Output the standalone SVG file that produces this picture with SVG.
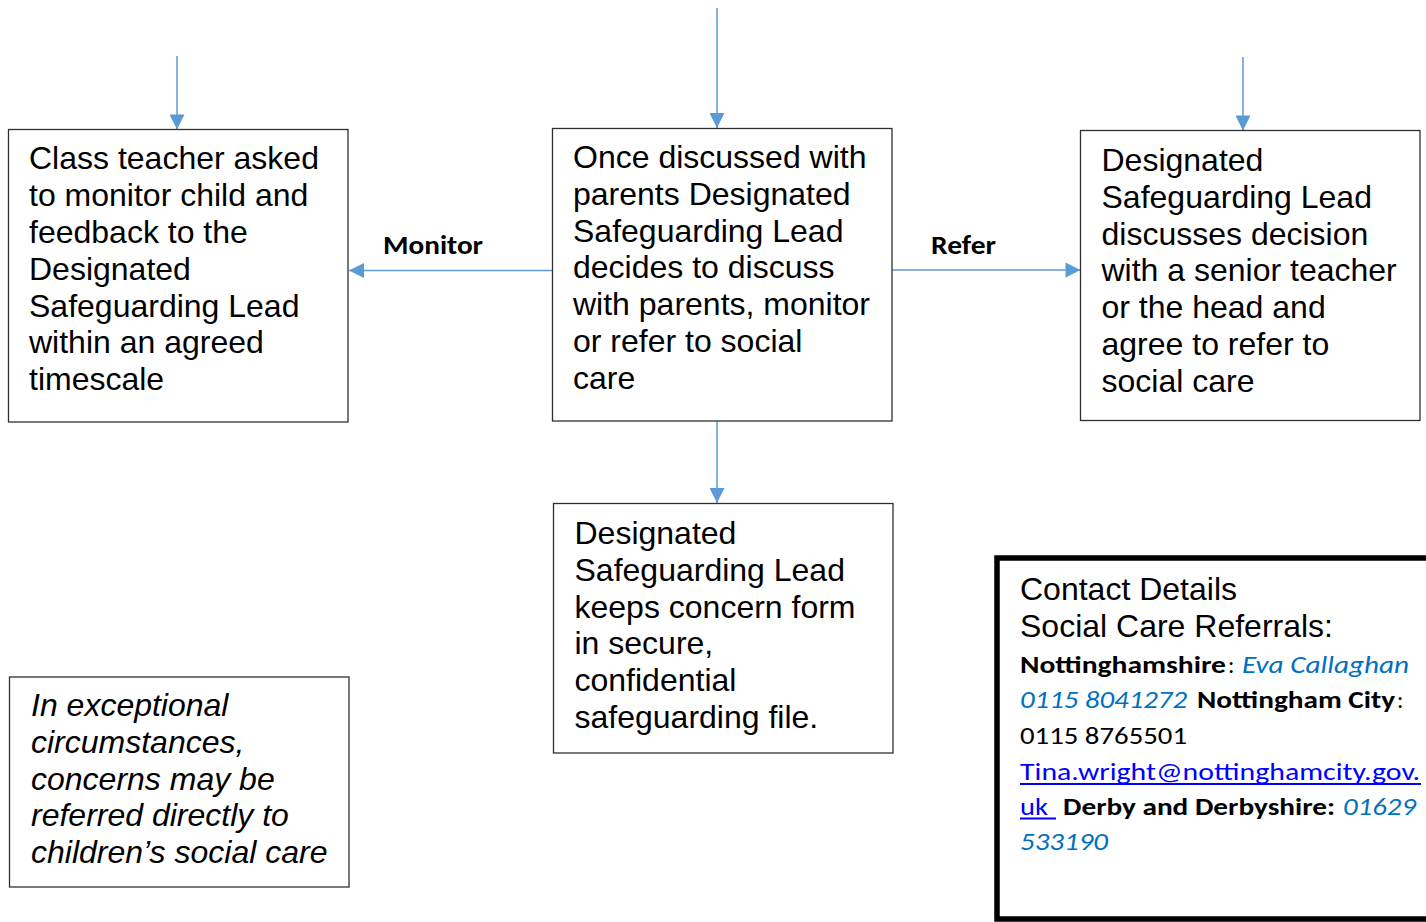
<svg xmlns="http://www.w3.org/2000/svg" width="1426" height="922" viewBox="0 0 1426 922">
<defs>
<style>
.box{fill:#fff;stroke:#303030;stroke-width:1.3}
.t{font-family:"Liberation Sans",Arial,sans-serif;font-size:32px;fill:#000}
.ti{font-family:"Liberation Sans",Arial,sans-serif;font-size:32px;font-style:italic;fill:#000}
.lbl{font-family:Carlito,Lato,"Open Sans",sans-serif;font-size:26px;font-weight:bold;fill:#000}
.c{font-family:Carlito,Lato,"Open Sans",sans-serif;font-size:24px;fill:#000}
.cb{font-weight:bold}
.ci{font-style:italic;fill:#0070C0}
.cl{fill:#0000FF}
.conn{stroke:#5B9BD5;stroke-width:1.5;fill:none;marker-end:url(#ah)}
</style>
<marker id="ah" viewBox="0 0 16 16" refX="16" refY="8" markerWidth="16" markerHeight="15" markerUnits="userSpaceOnUse" orient="auto">
<path d="M0,0 L16,8 L0,16 z" fill="#5B9BD5"/>
</marker>
</defs>
<rect width="1426" height="922" fill="#fff"/>

<g id="connectors">
<line class="conn" x1="177" y1="56" x2="177" y2="129.5"/>
<line class="conn" x1="717" y1="8" x2="717" y2="128"/>
<line class="conn" x1="1243" y1="57" x2="1243" y2="130.5"/>
<line class="conn" x1="717" y1="421" x2="717" y2="503"/>
<line class="conn" x1="552" y1="270.5" x2="349" y2="270.5"/>
<line class="conn" x1="892" y1="270" x2="1080.5" y2="270"/>
<text class="lbl" x="383" y="254" textLength="100" lengthAdjust="spacingAndGlyphs">Monitor</text>
<text class="lbl" x="931" y="254" textLength="65" lengthAdjust="spacingAndGlyphs">Refer</text>
</g>

<g id="node-monitor">
<rect class="box" x="8.5" y="129.5" width="339.5" height="292.5"/>
<text class="t" x="29" y="169.3">
<tspan x="29">Class teacher asked</tspan>
<tspan x="29" dy="36.8">to monitor child and</tspan>
<tspan x="29" dy="36.8">feedback to the</tspan>
<tspan x="29" dy="36.8">Designated</tspan>
<tspan x="29" dy="36.8">Safeguarding Lead</tspan>
<tspan x="29" dy="36.8">within an agreed</tspan>
<tspan x="29" dy="36.8">timescale</tspan>
</text>
</g>

<g id="node-decide">
<rect class="box" x="552.5" y="128.5" width="339.5" height="292.5"/>
<text class="t" x="573" y="168">
<tspan x="573">Once discussed with</tspan>
<tspan x="573" dy="36.8">parents Designated</tspan>
<tspan x="573" dy="36.8">Safeguarding Lead</tspan>
<tspan x="573" dy="36.8">decides to discuss</tspan>
<tspan x="573" dy="36.8">with parents, monitor</tspan>
<tspan x="573" dy="36.8">or refer to social</tspan>
<tspan x="573" dy="36.8">care</tspan>
</text>
</g>

<g id="node-refer">
<rect class="box" x="1080.5" y="130.5" width="339.5" height="290"/>
<text class="t" x="1101.5" y="171">
<tspan x="1101.5">Designated</tspan>
<tspan x="1101.5" dy="36.8">Safeguarding Lead</tspan>
<tspan x="1101.5" dy="36.8">discusses decision</tspan>
<tspan x="1101.5" dy="36.8">with a senior teacher</tspan>
<tspan x="1101.5" dy="36.8">or the head and</tspan>
<tspan x="1101.5" dy="36.8">agree to refer to</tspan>
<tspan x="1101.5" dy="36.8">social care</tspan>
</text>
</g>

<g id="node-keep">
<rect class="box" x="553.5" y="503.5" width="339.5" height="249.5"/>
<text class="t" x="574.5" y="544">
<tspan x="574.5">Designated</tspan>
<tspan x="574.5" dy="36.8">Safeguarding Lead</tspan>
<tspan x="574.5" dy="36.8">keeps concern form</tspan>
<tspan x="574.5" dy="36.8">in secure,</tspan>
<tspan x="574.5" dy="36.8">confidential</tspan>
<tspan x="574.5" dy="36.8">safeguarding file.</tspan>
</text>
</g>

<g id="node-exceptional">
<rect class="box" x="9.5" y="677" width="339.5" height="210"/>
<text class="ti" x="31" y="716">
<tspan x="31">In exceptional</tspan>
<tspan x="31" dy="36.8">circumstances,</tspan>
<tspan x="31" dy="36.8">concerns may be</tspan>
<tspan x="31" dy="36.8">referred directly to</tspan>
<tspan x="31" dy="36.8">children’s social care</tspan>
</text>
</g>

<g id="node-contact">
<rect x="997" y="558" width="460" height="361" fill="#fff" stroke="#000" stroke-width="5.5"/>
<text class="t" x="1020" y="600">Contact Details</text>
<text class="t" x="1020" y="637">Social Care Referrals:</text>
<text class="c cb" x="1020" y="673" textLength="206" lengthAdjust="spacingAndGlyphs">Nottinghamshire</text>
<text class="c" x="1228" y="673">:</text>
<text class="c ci" x="1242" y="673" textLength="167" lengthAdjust="spacingAndGlyphs">Eva Callaghan</text>
<text class="c ci" x="1020" y="708" textLength="167" lengthAdjust="spacingAndGlyphs">0115 8041272</text>
<text class="c cb" x="1197" y="708" textLength="198" lengthAdjust="spacingAndGlyphs">Nottingham City</text>
<text class="c" x="1397" y="708">:</text>
<text class="c" x="1020" y="744" textLength="167" lengthAdjust="spacingAndGlyphs">0115 8765501</text>
<text class="c cl" x="1020" y="779.5" textLength="400" lengthAdjust="spacingAndGlyphs">Tina.wright@nottinghamcity.gov.</text>
<line x1="1020" y1="784" x2="1421" y2="784" stroke="#0000FF" stroke-width="2"/>
<text class="c cl" x="1020" y="814.5" textLength="28" lengthAdjust="spacingAndGlyphs">uk</text>
<line x1="1020" y1="818.5" x2="1056" y2="818.5" stroke="#0000FF" stroke-width="2"/>
<text class="c cb" x="1063" y="814.5" textLength="272" lengthAdjust="spacingAndGlyphs">Derby and Derbyshire:</text>
<text class="c ci" x="1343" y="814.5" textLength="73" lengthAdjust="spacingAndGlyphs">01629</text>
<text class="c ci" x="1020" y="850" textLength="88" lengthAdjust="spacingAndGlyphs">533190</text>
</g>
</svg>
